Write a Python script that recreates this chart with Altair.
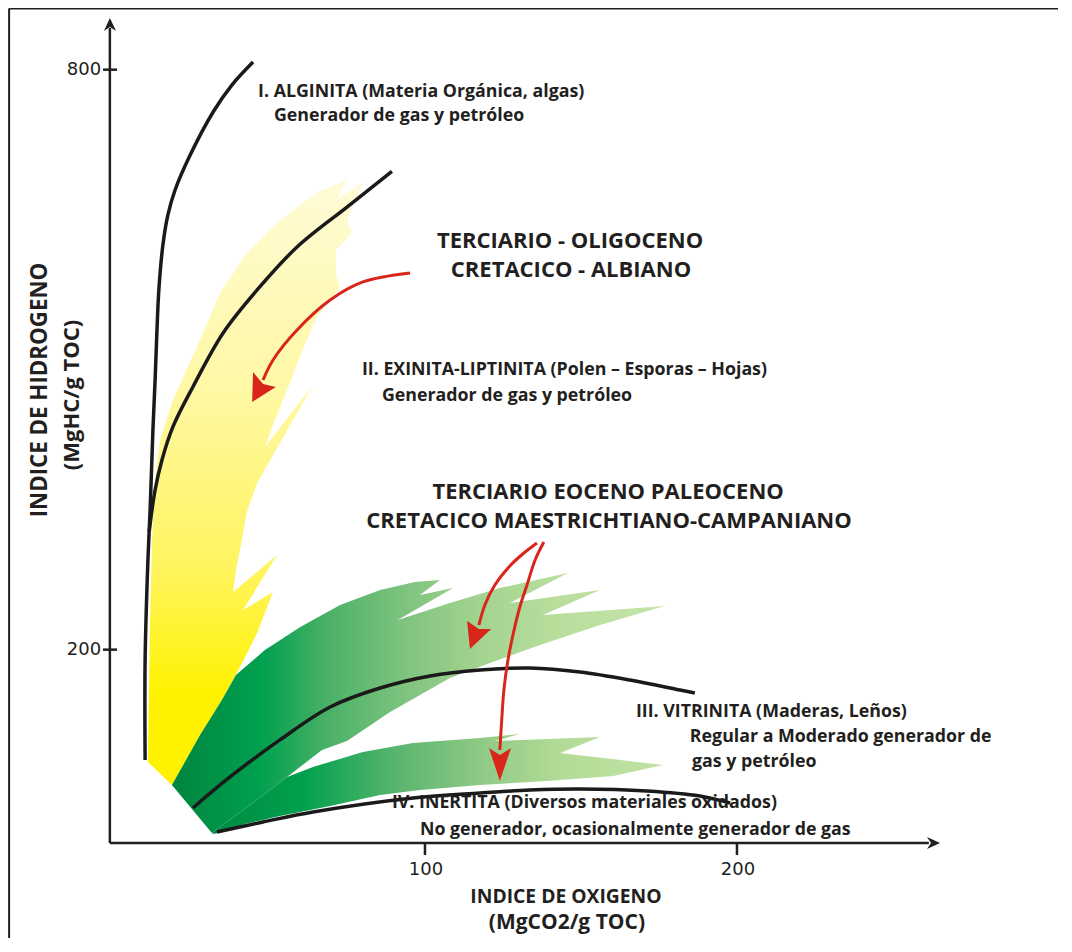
import altair as alt
import pandas as pd

# ---------------- data (Indice de Oxigeno = x, Indice de Hidrogeno = y) ----------------
X_DOMAIN = [-33.65, 302.9]
Y_DOMAIN = [-98.3, 863.8]

# kerogen evolution curves
type1_x = [10.3, 10.3, 11.2, 11.9, 12.8, 13.5, 14.1, 14.7, 16.0, 17.6, 19.9, 24.7, 32.1, 38.1, 44.9]
type1_y = [85.9, 189.3, 292.8, 344.5, 427.2, 479.0, 530.7, 572.1, 618.6, 649.7, 675.5, 711.4, 756.2, 784.1, 807.9]
type2_x = [11.6, 13.5, 15.7, 19.2, 25.6, 35.3, 46.2, 59.0, 75.0, 89.4]
type2_y = [322.0, 365.2, 396.2, 430.4, 471.7, 527.6, 572.1, 616.6, 657.9, 694.7]
type3_x = [25.6, 37.5, 53.5, 69.6, 85.6, 101.6, 117.6, 133.7, 149.7, 165.7, 181.7, 186.5]
type3_y = [36.2, 68.3, 106.6, 140.7, 160.3, 172.8, 179.0, 181.0, 176.9, 168.6, 158.3, 155.2]
type4_x = [33.3, 48.1, 64.1, 96.2, 117.6, 133.7, 149.7, 171.2, 188.1, 197.8]
type4_y = [11.4, 21.7, 32.1, 46.6, 51.7, 54.8, 55.9, 53.8, 48.6, 41.4]

# yellow field (Terciario - Oligoceno / Cretacico - Albiano)
yellow_x = [11.2, 11.5, 11.9, 12.5, 13.5, 15.1, 19.2, 26.9, 34.3, 42.9, 51.3, 59.0, 67.0, 75.0,
            71.5, 79.8, 75.0, 76.6, 71.5, 71.5, 72.8, 65.1, 59.9, 55.8, 51.9, 48.7, 64.1, 46.2,
            42.9, 40.7, 39.4, 38.5, 52.6, 41.7, 51.3, 46.2, 40.7, 34.9, 27.9, 18.9]
yellow_y = [83.8, 147.9, 230.7, 313.5, 375.5, 416.9, 458.3, 513.1, 569.0, 610.4, 637.3, 657.9, 675.5, 685.9,
            665.2, 682.8, 644.5, 631.0, 613.5, 587.6, 575.2, 543.1, 502.8, 468.6, 437.6, 409.7, 473.8, 372.4,
            342.4, 303.1, 282.4, 259.7, 297.9, 241.0, 259.7, 217.2, 182.1, 147.9, 111.7, 60.0]

# upper green field (Eoceno - Paleoceno / Maestrichtiano - Campaniano)
greenA_x = [18.9, 27.9, 34.9, 39.4, 48.7, 59.9, 72.8, 85.6, 96.8, 104.8, 98.4, 109.0, 91.3, 108.0, 124.0,
            145.8, 127.2, 156.1, 137.8, 176.9, 156.1, 136.9, 120.8, 108.0, 88.8, 75.0, 67.0, 55.8, 43.9, 31.7]
greenA_y = [60.0, 111.7, 147.9, 173.8, 199.6, 223.3, 246.1, 261.6, 270.0, 272.1, 256.6, 263.8, 230.7, 248.3, 263.8,
            279.3, 248.3, 261.7, 235.9, 245.2, 225.5, 204.8, 186.2, 170.7, 135.5, 105.5, 96.2, 68.3, 39.3, 10.3]

# lower green field
greenB_x = [31.7, 43.9, 55.8, 64.1, 80.1, 96.2, 117.6, 130.4, 122.4, 156.1, 143.3, 176.3,
            160.3, 139.1, 117.6, 98.4, 85.6, 69.6, 53.5, 42.3, 32.4]
greenB_y = [10.3, 39.3, 68.3, 78.6, 94.1, 103.5, 108.6, 112.8, 105.5, 109.7, 93.1, 80.7,
            69.3, 64.1, 60.0, 54.8, 49.7, 38.3, 27.9, 19.7, 9.3]

# red arrows
arrow1_x = [95.2, 80.1, 69.6, 59.0, 51.3, 48.1]
arrow1_y = [589.7, 580.4, 561.7, 530.7, 499.7, 479.0]
head1_x = [44.6, 44.9, 48.1, 52.2]
head1_y = [456.2, 487.2, 474.8, 471.7]
arrow2_x = [135.9, 131.7, 127.2, 122.4, 119.2, 117.3]
arrow2_y = [310.4, 300.0, 286.6, 266.9, 246.2, 225.5]
head2_x = [114.4, 113.5, 117.3, 121.2]
head2_y = [200.7, 229.7, 221.4, 221.4]
arrow3_x = [138.1, 135.3, 132.7, 130.4, 128.2, 126.6, 125.3, 124.7, 124.0]
arrow3_y = [311.4, 292.8, 266.9, 244.1, 215.2, 189.3, 158.3, 132.4, 96.2]
head3_x = [124.0, 120.5, 124.0, 127.6]
head3_y = [64.1, 98.3, 91.0, 98.3]

# axes (lines, ticks, arrow heads) and frame
axis_x = [-1.0, -1.0, -3.2, -3.2, 100.0, 200.0]
axis_x2 = [-1.0, 261.5, 1.3, 1.3, 100.0, 200.0]
axis_y = [0.0, 0.0, 800.0, 200.0, 0.0, 0.0]
axis_y2 = [843.0, 0.0, 800.0, 200.0, -12.4, -12.4]
yhead_x = [-1.0, 1.0, -1.0, -2.9]
yhead_y = [853.5, 840.0, 844.2, 840.0]
xhead_x = [265.1, 260.9, 262.2, 260.9]
xhead_y = [0.0, -6.2, 0.0, 6.2]
frame_x = [-33.3, -33.3]
frame_x2 = [-33.3, 302.9]
frame_y = [-98.3, 863.3]
frame_y2 = [863.3, 863.3]

# texts
note_text = ["I. ALGINITA (Materia Orgánica, algas)", "Generador de gas y petróleo",
             "II. EXINITA-LIPTINITA (Polen – Esporas – Hojas)", "Generador de gas y petróleo",
             "III. VITRINITA (Maderas, Leños)", "Regular a Moderado generador de", "gas y petróleo",
             "IV. INERTITA (Diversos materiales oxidados)", "No generador, ocasionalmente generador de gas"]
note_x = [46.5, 51.6, 79.8, 86.2, 167.6, 184.9, 185.6, 89.4, 98.4]
note_y = [776.9, 752.1, 489.3, 462.4, 135.5, 109.7, 83.8, 41.4, 13.4]
era_text = ["TERCIARIO - OLIGOCENO", "CRETACICO - ALBIANO",
            "TERCIARIO EOCENO  PALEOCENO", "CRETACICO MAESTRICHTIANO-CAMPANIANO"]
era_x = [146.5, 146.8, 158.7, 159.0]
era_y = [623.0, 592.8, 363.1, 333.1]
xtitle1_text = ["INDICE DE OXIGENO"]
xtitle1_x = [145.2]
xtitle1_y = [-55.9]
xtitle2_text = ["(MgCO2/g TOC)"]
xtitle2_x = [145.5]
xtitle2_y = [-82.8]
ytitle1_text = ["INDICE DE HIDROGENO"]
ytitle1_x = [-23.4]
ytitle1_y = [468.6]
ytitle2_text = ["(MgHC/g TOC)"]
ytitle2_x = [-13.1]
ytitle2_y = [463.5]
ytick_text = ["800", "200"]
ytick_x = [-3.8, -3.8]
ytick_y = [800.0, 200.0]
xtick_text = ["100", "200"]
xtick_x = [100.3, 200.3]
xtick_y = [-27.9, -27.9]

# ---------------- chart ----------------
FONT = "Open Sans, Noto Sans, sans-serif"
TICKFONT = "DejaVu Sans, sans-serif"
INK = "#231F20"
RED = "#D9261C"

xs = alt.Scale(domain=X_DOMAIN, nice=False, zero=False)
ys = alt.Scale(domain=Y_DOMAIN, nice=False, zero=False)


def enc_xy():
    return dict(x=alt.X("x:Q", scale=xs, axis=None), y=alt.Y("y:Q", scale=ys, axis=None))


def grad(stops, horizontal):
    return alt.Gradient(
        gradient="linear",
        stops=[alt.GradientStop(color=c, offset=o) for o, c in stops],
        x1=0, y1=0, x2=1 if horizontal else 0, y2=0 if horizontal else 1,
    )


def polygon(xv, yv, fill):
    df = pd.DataFrame({"x": xv, "y": yv, "i": list(range(len(xv)))})
    return alt.Chart(df).mark_line(
        fill=fill, strokeWidth=0, strokeOpacity=0, interpolate="linear-closed"
    ).encode(order=alt.Order("i:Q"), **enc_xy())


def curve(xv, yv, color, width, interp="catmull-rom"):
    df = pd.DataFrame({"x": xv, "y": yv, "i": list(range(len(xv)))})
    return alt.Chart(df).mark_line(
        color=color, strokeWidth=width, interpolate=interp, strokeCap="butt"
    ).encode(order=alt.Order("i:Q"), **enc_xy())


def rules(x, x2, y, y2, width):
    df = pd.DataFrame({"x": x, "x2": x2, "y": y, "y2": y2})
    return alt.Chart(df).mark_rule(color=INK, strokeWidth=width).encode(
        x2="x2:Q", y2="y2:Q", **enc_xy()
    )


def texts(t, x, y, size, align, weight="bold", angle=0, font=FONT):
    df = pd.DataFrame({"x": x, "y": y, "t": t})
    return alt.Chart(df).mark_text(
        font=font, fontSize=size, fontWeight=weight, align=align, baseline="middle",
        color=INK, angle=angle
    ).encode(text="t:N", **enc_xy())


yellow_fill = grad([(0.0, "#FFFBD6"), (0.35, "#FFF8A4"), (0.65, "#FFF45C"), (0.85, "#FFF200"), (1.0, "#FFF200")], False)
greenA_fill = grad([(0.0, "#00853F"), (0.18, "#00A04F"), (0.32, "#4CB167"), (0.46, "#7BC27D"),
                    (0.62, "#A2D38F"), (0.78, "#B9DE9C"), (1.0, "#C5E4A9")], True)
greenB_fill = grad([(0.0, "#008A42"), (0.2, "#00A04E"), (0.42, "#5DB66F"), (0.6, "#8FCA86"),
                    (0.77, "#B3DB96"), (1.0, "#C0E2A5")], True)

layers = [
    rules(frame_x, frame_x2, frame_y, frame_y2, 2),
    polygon(yellow_x, yellow_y, yellow_fill),
    polygon(greenA_x, greenA_y, greenA_fill),
    polygon(greenB_x, greenB_y, greenB_fill),
    curve(type1_x, type1_y, "#1A1A1A", 3.5),
    curve(type2_x, type2_y, "#1A1A1A", 3.5),
    curve(type3_x, type3_y, "#1A1A1A", 3.5),
    curve(type4_x, type4_y, "#1A1A1A", 3.5),
    curve(arrow1_x, arrow1_y, RED, 3),
    curve(arrow2_x, arrow2_y, RED, 3),
    curve(arrow3_x, arrow3_y, RED, 3),
    polygon(head1_x, head1_y, RED),
    polygon(head2_x, head2_y, RED),
    polygon(head3_x, head3_y, RED),
    rules(axis_x, axis_x2, axis_y, axis_y2, 2.5),
    polygon(yhead_x, yhead_y, INK),
    polygon(xhead_x, xhead_y, INK),
    texts(note_text, note_x, note_y, 17.8, "left"),
    texts(era_text, era_x, era_y, 22, "center"),
    texts(xtitle1_text, xtitle1_x, xtitle1_y, 19.3, "center"),
    texts(xtitle2_text, xtitle2_x, xtitle2_y, 21, "center"),
    texts(ytitle1_text, ytitle1_x, ytitle1_y, 22.3, "center", angle=270),
    texts(ytitle2_text, ytitle2_x, ytitle2_y, 22, "center", angle=270),
    texts(ytick_text, ytick_x, ytick_y, 18, "right", weight="normal", font=TICKFONT),
    texts(xtick_text, xtick_x, xtick_y, 18, "center", weight="normal", font=TICKFONT),
]

chart = alt.layer(*layers).properties(
    width=1050, height=930, padding=0, autosize=alt.AutoSizeParams(type="none"),
    background="white",
).configure_view(strokeWidth=0)

chart.save("out.html", embed_options={"renderer": "svg", "actions": False})
